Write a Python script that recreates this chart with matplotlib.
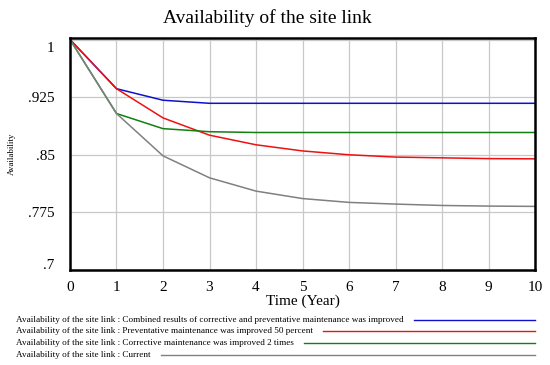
import matplotlib
matplotlib.use("Agg")
import matplotlib.pyplot as plt
from matplotlib.lines import Line2D
from matplotlib.transforms import ScaledTranslation

plt.rcParams['font.family'] = ['Liberation Serif', 'DejaVu Serif']

years = list(range(0, 11))
combined = [1.0, 0.936, 0.921, 0.917, 0.917, 0.917, 0.917, 0.917, 0.917, 0.917, 0.917]
preventive = [1.0, 0.936, 0.898, 0.8755, 0.863, 0.855, 0.850, 0.847, 0.846, 0.845, 0.8447]
corrective = [1.0, 0.9037, 0.884, 0.880, 0.879, 0.879, 0.879, 0.879, 0.879, 0.879, 0.879]
current = [1.0, 0.9037, 0.8486, 0.820, 0.8027, 0.793, 0.788, 0.7858, 0.784, 0.7832, 0.7828]

series_labels = [
    "Availability of the site link : Combined results of corrective and preventative maintenance was improved",
    "Availability of the site link : Preventative maintenance was improved 50 percent",
    "Availability of the site link : Corrective maintenance was improved 2 times",
    "Availability of the site link : Current",
]
series_values = [combined, preventive, corrective, current]
series_colors = ['#1010cc', '#ee1111', '#108010', '#808080']

yticks = [0.7, 0.775, 0.85, 0.925, 1.0]
ytick_labels = ['.7', '.775', '.85', '.925', '1']

fig = plt.figure(figsize=(5.5, 3.65), dpi=100)
ax = fig.add_axes([70/550, 1-270/365, 465/550, 232/365])

for vals, col in zip(series_values, series_colors):
    ax.plot(years, vals, color=col, lw=1.1)

ax.set_xlim(0, 10)
ax.set_ylim(0.7, 1.002)
ax.set_xticks(years)
ax.set_yticks(yticks)
ax.set_yticklabels(ytick_labels)
ax.grid(True, color='#c8c8c8', lw=0.9)
ax.tick_params(length=0, labelsize=11)
ax.tick_params(axis='y', pad=11)
ax.tick_params(axis='x', pad=8)
for s in ax.spines.values():
    s.set_linewidth(1.8)
    s.set_color('black')
ax.set_xlabel('Time (Year)', fontsize=11, labelpad=0)
ax.set_ylabel('Availability', fontsize=6.5, labelpad=9)
fig.suptitle('Availability of the site link', fontsize=14, x=0.487, y=0.975)

# shift top/bottom y tick labels inward like the original
ylabs = ax.get_yticklabels()
ylabs[-1].set_transform(ylabs[-1].get_transform() + ScaledTranslation(0, -7/100, fig.dpi_scale_trans))
ylabs[0].set_transform(ylabs[0].get_transform() + ScaledTranslation(0, 6/100, fig.dpi_scale_trans))

# legend below
fig.canvas.draw()
renderer = fig.canvas.get_renderer()
rows_y = [320, 331, 343, 355]
for lab, col, yp in zip(series_labels, series_colors, rows_y):
    t = fig.text(16/550, 1-yp/365, lab, fontsize=6.6, va='center', ha='left')
    bb = t.get_window_extent(renderer=renderer)
    x0 = (bb.x1 + 10) / 550
    fig.add_artist(Line2D([x0, 535/550], [1-yp/365, 1-yp/365], color=col, lw=1.0,
                          transform=fig.transFigure))

fig.savefig('out.png', dpi=100)
